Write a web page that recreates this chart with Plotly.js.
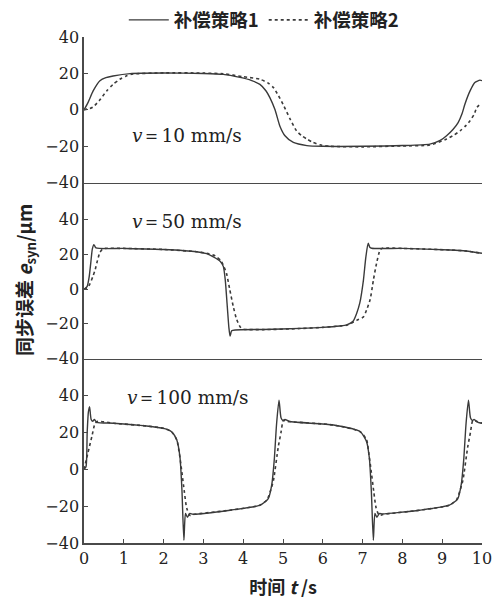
<!DOCTYPE html>
<html><head><meta charset="utf-8">
<script src="https://cdn.plot.ly/plotly-3.0.1.min.js"></script>
<style>body{margin:0;background:#fff}#chart{width:493px;height:599px}</style>
</head><body><div id="chart"></div>
<script>
const seriesNames = ['补偿策略1', '补偿策略2'];
const speedLabels = ['10 mm/s', '50 mm/s', '100 mm/s'];
const xTicks = [0,1,2,3,4,5,6,7,8,9,10];
const yTicks = [-40,-20,0,20,40];

// v = 10 mm/s
const t10a = [0,0.1,0.23,0.4,0.55,0.73,1.16,2,3,3.5,3.92,4.2,4.42,4.57,4.67,4.8,4.92,5.05,5.26,5.6,6,7,8,8.69,8.95,9.11,9.27,9.4,9.5,9.57,9.7,9.82,9.95,10];
const e10a = [0,4,10.4,16,17.7,18.6,19.9,20.2,20,19.5,17.8,16.2,14,10.5,6.7,0,-8.8,-14.2,-17.9,-19.6,-20,-20,-19.6,-18.8,-16.8,-14.2,-10.8,-7,-2,3.1,10.4,15,16.3,16];
const t10b = [0,0.15,0.23,0.4,0.57,0.73,0.9,1.05,1.2,2,3,3.5,4,4.42,4.62,4.76,4.88,5.0,5.18,5.34,5.47,5.6,5.75,5.93,6.18,7,8,8.69,9.11,9.3,9.45,9.6,9.7,9.8,9.87,9.97];
const e10b = [0,0.8,1.6,5.5,10.4,14,16.8,18.5,19.6,20.3,20.2,19.8,18.2,16.8,14.8,12.2,8,3.1,-5.1,-11.5,-14.2,-16,-17.8,-19.2,-20,-20.3,-19.8,-19.3,-16,-13.8,-11.5,-8.5,-6,-2.5,1.3,3.5];

// v = 50 mm/s
const t50a = [0,0.03,0.08,0.13,0.17,0.21,0.25,0.3,1,2,2.83,3.08,3.25,3.42,3.5,3.55,3.6,3.64,3.67,3.71,3.8,4.5,5.43,6,6.43,6.6,6.76,6.85,6.93,7.02,7.08,7.14,7.18,7.23,8,9.2,9.6,10];
const e50a = [0,0.4,1.5,7,15,23,25.5,23.6,23.3,22.7,21.4,20.3,18.5,16,13,5,-10,-22,-27,-24,-23.5,-23.2,-22.6,-22,-21.2,-20.6,-18.5,-14,-8,5,18,26.3,24,23.4,23.3,22.4,21.8,20.5];
const t50b = [0,0.1,0.15,0.22,0.28,0.34,0.4,0.46,0.52,1,2,2.83,3.08,3.3,3.45,3.52,3.58,3.66,3.75,3.83,3.92,4.0,4.5,5.43,6,6.43,6.6,6.85,7.02,7.1,7.19,7.27,7.35,7.44,7.5,8,9.2,9.6,10];
const e50b = [0,1,3,7,11,16.5,21,22.8,23.3,23.3,22.7,21.4,20.5,19,16,12.5,9,0,-10,-17,-21.6,-23,-23.3,-22.7,-22,-21.2,-20.8,-18,-16,-12,-6,5,14.7,22.5,23.4,23.3,22.4,21.8,20.5];

// v = 100 mm/s
const t100a = [0,0.05,0.08,0.11,0.14,0.18,0.22,0.26,0.32,0.74,1.57,2.0,2.2,2.33,2.41,2.46,2.51,2.55,2.6,2.66,2.74,3.67,4.42,4.63,4.72,4.78,4.84,4.9,4.95,5.0,5.05,5.18,6.27,6.94,7.1,7.17,7.22,7.27,7.31,7.36,7.42,7.5,8.43,9.18,9.39,9.48,9.54,9.6,9.66,9.71,9.76,9.8,9.9,10];
const e100a = [0,1.4,20,31,34,27,26,27,25.5,25,23.5,22.2,20.4,16,6.8,-11,-38.5,-24,-26,-24,-24.4,-22.2,-19.5,-15.9,-8,5,25,37.5,28,26.5,27,25.9,24,20.4,15,6,-12,-38.5,-24,-26,-24,-24.2,-22.2,-19.5,-16,-8,5,25,37.5,28,26.5,27,25.5,25];
const t100b = [0,0.1,0.2,0.28,0.35,0.74,1.57,2.0,2.2,2.33,2.4,2.45,2.52,2.58,2.66,2.75,3.67,4.42,4.6,4.68,4.76,4.88,4.95,5.01,5.1,6.27,6.94,7.1,7.16,7.21,7.28,7.34,7.42,7.51,8.43,9.18,9.36,9.44,9.52,9.64,9.71,9.77,9.86,10];
const e100b = [0,9,18,25,26,25,23.5,22.2,20.4,16,8,0,-12,-21,-25,-24.5,-22.2,-19.5,-16.5,-12,-6,12,20,26.5,26,24,20.4,16,8,0,-12,-21,-25,-24.5,-22.2,-19.5,-16.5,-12,-6,12,20,26.5,26,25];

const lineColor = '#3a3a3a';
const axisColor = '#4a4a4a';
const serif = 'DejaVu Serif, serif';
const cjk = 'Noto Sans CJK SC, sans-serif';

function tr(x, y, xa, ya, idx, show) {
  return {
    x: x, y: y, xaxis: xa, yaxis: ya, type: 'scatter', mode: 'lines',
    name: seriesNames[idx], showlegend: show,
    line: {color: lineColor, width: idx === 0 ? 1.4 : 1.6, dash: idx === 0 ? 'solid' : 'dot', shape: 'spline', smoothing: 0.6}
  };
}

const data = [
  tr(t10a, e10a, 'x', 'y', 0, true),
  tr(t10b, e10b, 'x', 'y', 1, true),
  tr(t50a, e50a, 'x2', 'y2', 0, false),
  tr(t50b, e50b, 'x2', 'y2', 1, false),
  tr(t100a, e100a, 'x3', 'y3', 0, false),
  tr(t100b, e100b, 'x3', 'y3', 1, false)
];

const tickFont = {family: serif, size: 16, color: '#222'};
const xBase = {range: [0, 10], showline: true, linecolor: axisColor, linewidth: 1.7, showgrid: false, zeroline: false};
const yBase = {showline: true, linecolor: axisColor, linewidth: 1.7, showgrid: false, zeroline: false,
  ticks: 'inside', ticklen: 4, tickcolor: axisColor, tickvals: yTicks, tickfont: tickFont};

const layout = {
  width: 493, height: 599,
  margin: {l: 84, r: 11, t: 37, b: 56, autoexpand: false},
  paper_bgcolor: '#fff', plot_bgcolor: '#fff',
  showlegend: true,
  legend: {orientation: 'h', x: 0.1, y: 1.033, xanchor: 'left', yanchor: 'middle',
    font: {family: cjk, size: 18.5, color: '#222', weight: 'bold'}, itemwidth: 40, tracegroupgap: 0},
  xaxis: Object.assign({}, xBase, {anchor: 'y', ticks: '', showticklabels: false}),
  xaxis2: Object.assign({}, xBase, {anchor: 'y2', ticks: '', showticklabels: false}),
  xaxis3: Object.assign({}, xBase, {anchor: 'y3', ticks: 'inside', ticklen: 4, tickcolor: axisColor,
    tickvals: xTicks, tickfont: tickFont,
    title: {text: '时间 <i>t</i> /s', font: {family: cjk, size: 18, color: '#222', weight: 'bold'}, standoff: 15}}),
  yaxis: Object.assign({}, yBase, {anchor: 'x', domain: [0.712, 1], range: [-40, 40]}),
  yaxis2: Object.assign({}, yBase, {anchor: 'x2', domain: [0.3642, 0.712], range: [-40, 61]}),
  yaxis3: Object.assign({}, yBase, {anchor: 'x3', domain: [0, 0.3642], range: [-40, 60]}),
  annotations: [
    {xref: 'x', yref: 'y', x: 1.15, y: -14, xanchor: 'left', yanchor: 'middle', showarrow: false,
      text: '<i>v</i>＝' + speedLabels[0], font: {family: serif, size: 18.5, color: '#222'}},
    {xref: 'x2', yref: 'y2', x: 1.15, y: 39, xanchor: 'left', yanchor: 'middle', showarrow: false,
      text: '<i>v</i>＝' + speedLabels[1], font: {family: serif, size: 18.5, color: '#222'}},
    {xref: 'x3', yref: 'y3', x: 1.03, y: 38.7, xanchor: 'left', yanchor: 'middle', showarrow: false,
      text: '<i>v</i>＝' + speedLabels[2], font: {family: serif, size: 18.5, color: '#222'}},
    {xref: 'paper', yref: 'paper', x: -0.148, y: 0.52, xanchor: 'center', yanchor: 'middle', showarrow: false,
      textangle: -90, text: '同步误差 <i>e</i><sub>syn</sub>/μm', font: {family: cjk, size: 19, color: '#222', weight: 'bold'}}
  ]
};

Plotly.newPlot('chart', data, layout, {displayModeBar: false, staticPlot: true});
</script>
</body></html>
